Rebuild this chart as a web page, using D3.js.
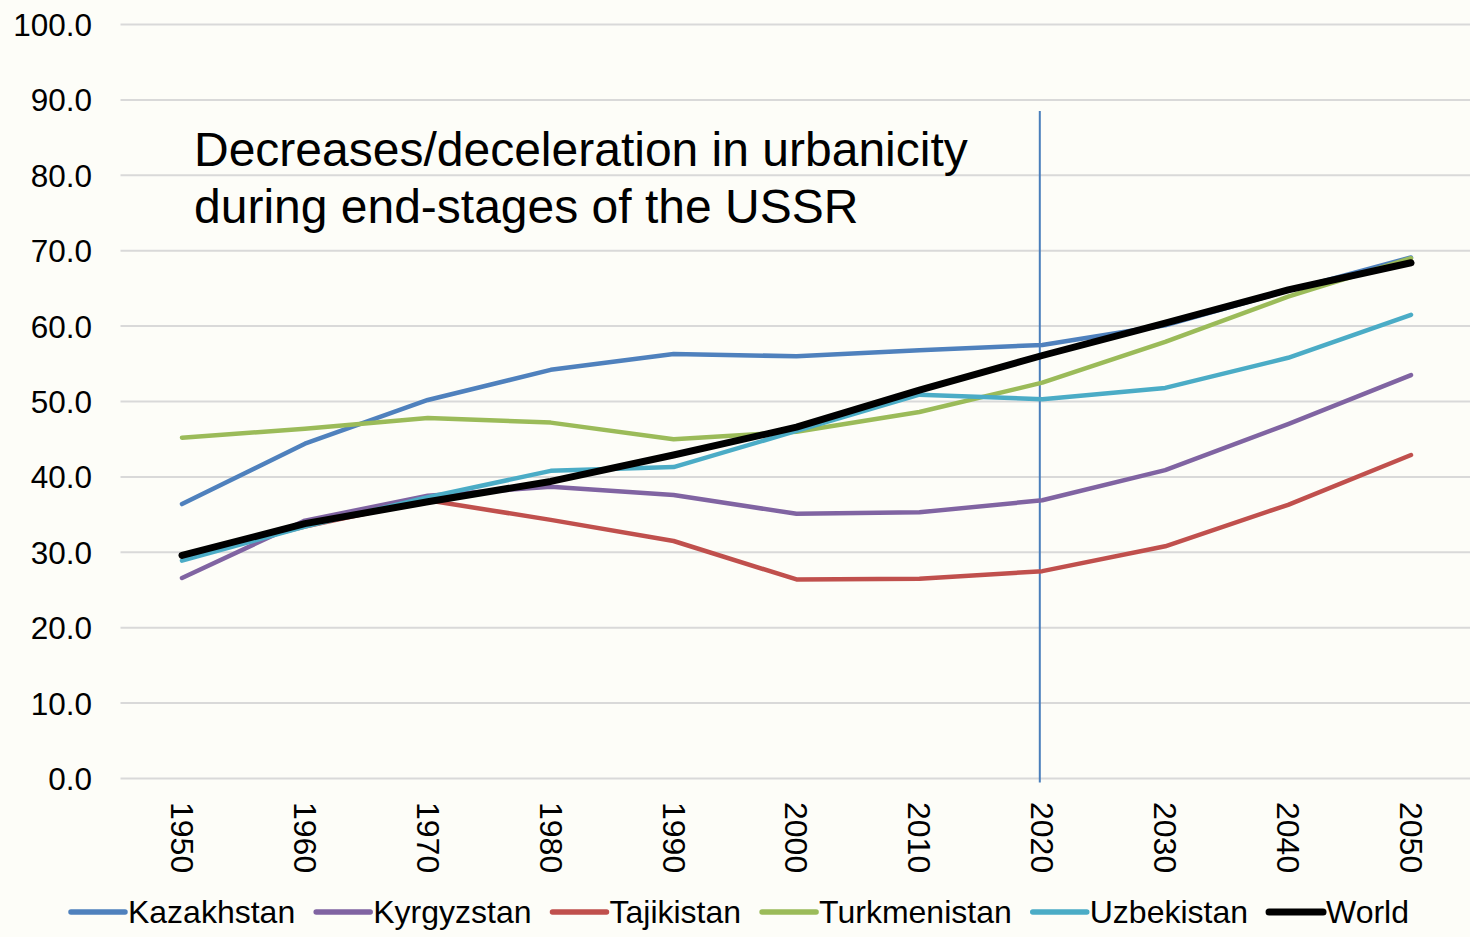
<!DOCTYPE html>
<html>
<head>
<meta charset="utf-8">
<script src="https://cdn.jsdelivr.net/npm/d3@7/dist/d3.min.js"></script>
<style>
  html, body { margin: 0; padding: 0; background: #FDFDF8; }
  svg { display: block; font-family: Arial, "Liberation Sans", sans-serif; }
</style>
</head>
<body>
<svg id="chart" width="1470" height="937"></svg>
<script>
// Urban population share (%) by decade
const years = [1950, 1960, 1970, 1980, 1990, 2000, 2010, 2020, 2030, 2040, 2050];
const kazakhstan   = [36.4, 44.4, 50.2, 54.2, 56.3, 56.0, 56.8, 57.5, 60.1, 64.7, 69.1];
const kyrgyzstan   = [26.6, 34.2, 37.5, 38.7, 37.6, 35.1, 35.3, 36.9, 40.9, 47.0, 53.5];
const tajikistan   = [29.4, 33.4, 36.9, 34.3, 31.5, 26.4, 26.5, 27.5, 30.8, 36.3, 42.9];
const turkmenistan = [45.2, 46.4, 47.8, 47.2, 45.0, 46.0, 48.6, 52.5, 57.9, 63.9, 69.0];
const uzbekistan   = [28.9, 33.4, 37.3, 40.8, 41.3, 46.1, 50.9, 50.3, 51.8, 55.8, 61.5];
const world        = [29.6, 33.8, 36.7, 39.4, 42.9, 46.6, 51.5, 56.1, 60.4, 64.8, 68.4];
const yTicks = [0, 10, 20, 30, 40, 50, 60, 70, 80, 90, 100];
const markerYear = 2020;

const seriesNames = ["Kazakhstan", "Kyrgyzstan", "Tajikistan", "Turkmenistan", "Uzbekistan", "World"];
const seriesValues = [kazakhstan, kyrgyzstan, tajikistan, turkmenistan, uzbekistan, world];
const seriesColors = ["#4F81BD", "#8064A2", "#C0504D", "#9BBB59", "#4BACC6", "#000000"];
const seriesWidths = [4.5, 4.5, 4.5, 4.5, 4.5, 7];

const svg = d3.select("#chart");

const x = d3.scalePoint().domain(years).range([182, 1411]);
const y = d3.scaleLinear().domain([0, 100]).range([778.5, 24.5]);

// Horizontal gridlines (the zero line doubles as the category axis)
svg.append("g")
  .selectAll("line")
  .data(yTicks)
  .join("line")
  .attr("x1", 120.5).attr("x2", 1470)
  .attr("y1", d => y(d)).attr("y2", d => y(d))
  .attr("stroke", "#D9D9D9").attr("stroke-width", 2);

// Value axis labels
const yAxis = d3.axisLeft(y).tickValues(yTicks).tickFormat(d3.format(".1f")).tickSize(0).tickPadding(0);
const yg = svg.append("g").attr("transform", "translate(92,0)").call(yAxis);
yg.select(".domain").remove();
yg.selectAll("text")
  .attr("font-size", 31.5).attr("fill", "#000")
  .attr("font-family", "Arial, 'Liberation Sans', sans-serif")
  .attr("dy", "0.35em");

// Year labels, rotated to read downward
const xAxis = d3.axisBottom(x).tickSize(0).tickPadding(0);
const xg = svg.append("g").attr("transform", "translate(0,802)").call(xAxis);
xg.select(".domain").remove();
xg.selectAll("text")
  .attr("font-size", 32).attr("fill", "#000")
  .attr("font-family", "Arial, 'Liberation Sans', sans-serif")
  .attr("text-anchor", "start")
  .attr("transform", "rotate(90)")
  .attr("x", 0).attr("y", 0)
  .attr("dy", "0.36em");

// Reference line marking the present
svg.append("line")
  .attr("x1", x(markerYear) - 2.5).attr("x2", x(markerYear) - 2.5)
  .attr("y1", 111).attr("y2", 782.5)
  .attr("stroke", "#4A7EBB").attr("stroke-width", 2);

// Series lines
const line = d3.line()
  .x((d, i) => x(years[i]))
  .y(d => y(d));

svg.append("g")
  .selectAll("path")
  .data(seriesValues)
  .join("path")
  .attr("d", d => line(d))
  .attr("fill", "none")
  .attr("stroke", (d, i) => seriesColors[i])
  .attr("stroke-width", (d, i) => seriesWidths[i])
  .attr("stroke-linejoin", "round")
  .attr("stroke-linecap", "round");

// Annotation
const note = svg.append("text")
  .attr("x", 194).attr("y", 165)
  .attr("font-size", 48).attr("fill", "#000");
note.append("tspan").attr("x", 194).attr("y", 166).text("Decreases/deceleration in urbanicity");
note.append("tspan").attr("x", 194).attr("y", 223).text("during end-stages of the USSR");

// Legend
const legend = svg.append("g");
const items = legend.selectAll("g")
  .data(seriesNames)
  .join("g");
items.append("line")
  .attr("x1", 0).attr("x2", 54)
  .attr("y1", 0).attr("y2", 0)
  .attr("stroke", (d, i) => seriesColors[i])
  .attr("stroke-width", (d, i) => i === 5 ? 7 : 5.5)
  .attr("stroke-linecap", "round");
items.append("text")
  .attr("x", 57).attr("y", 0).attr("dy", "0.35em")
  .attr("font-size", 32).attr("fill", "#000")
  .text(d => d);

let cursor = 0;
const offsets = [];
items.each(function () {
  offsets.push(cursor);
  const w = 57 + this.querySelector("text").getComputedTextLength();
  cursor += w + 21;
});
const totalW = cursor - 21;
const startX = 740 - totalW / 2;
items.attr("transform", (d, i) => `translate(${startX + offsets[i]},912)`);
</script>
</body>
</html>
